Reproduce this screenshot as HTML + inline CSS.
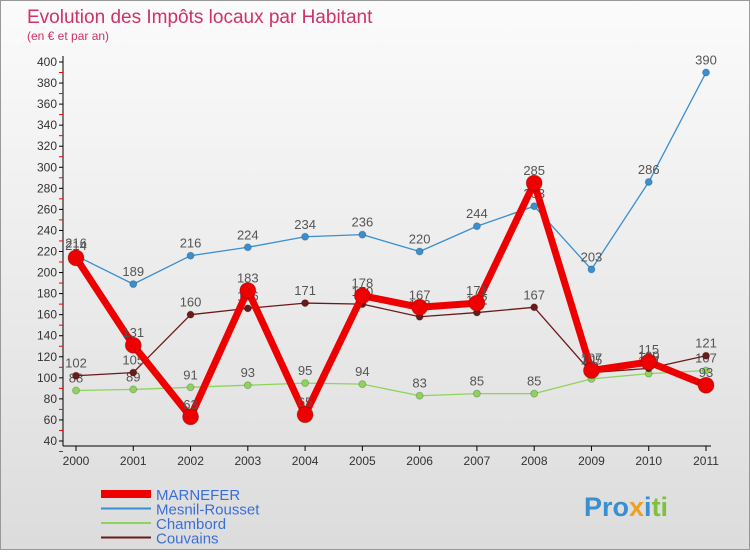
<!DOCTYPE html>
<html><head><meta charset="utf-8"><style>
body{margin:0;width:750px;height:550px;overflow:hidden;font-family:"Liberation Sans",sans-serif}
#wrap{position:relative;width:748px;height:548px;border:1px solid #999;background:linear-gradient(#fbfbfb,#dcdcdc)}
text{font-family:"Liberation Sans","DejaVu Sans",sans-serif}
</style></head><body>
<div id="wrap">
<svg id="chart" width="750" height="550">
<text x="26" y="22" font-size="19" fill="#d0306a">Evolution des Impôts locaux par Habitant</text>
<text x="26" y="39" font-size="12" fill="#d0306a">(en € et par an)</text>
<g id="axes"></g><g id="series"></g>
<text x="583" y="515" font-size="27" font-weight="bold" fill="#3a8fd0">Pro<tspan fill="#f0a020">x</tspan><tspan fill="#3a8fd0">i</tspan><tspan fill="#80c040">ti</tspan></text>
</svg></div>
<script>
const years=[2000,2001,2002,2003,2004,2005,2006,2007,2008,2009,2010,2011];
const yTicks=[40,60,80,100,120,140,160,180,200,220,240,260,280,300,320,340,360,380,400];
const marnefer=[214,131,63,183,65,178,167,171,285,107,115,93];
const mesnil=[216,189,216,224,234,236,220,244,263,203,286,390];
const chambord=[88,89,91,93,95,94,83,85,85,99,104,107];
const couvains=[102,105,160,166,171,170,158,162,167,105,109,121];
const NS="http://www.w3.org/2000/svg";
const xs=i=>75+i*(630/11);
const ys=v=>440-(v-40)*(379/360);
function mk(t,a,p){const e=document.createElementNS(NS,t);for(const k in a)e.setAttribute(k,a[k]);p.appendChild(e);return e;}
const ax=document.getElementById('axes');
const yl=mk('line',{x1:62,y1:55,x2:62,y2:445,stroke:'#000','stroke-width':1},ax);


const xl=mk('line',{x1:62,y1:445,x2:710,y2:445,stroke:'#000','stroke-width':1},ax);


yTicks.forEach(v=>{const y=ys(v);
mk('line',{x1:58,y1:y,x2:62,y2:y,stroke:'#000'},ax);
mk('line',{x1:58,y1:y+10.5,x2:62,y2:y+10.5,stroke:'#e00'},ax);
const t=mk('text',{x:56,y:y+4,'text-anchor':'end','font-size':12,fill:'#333'},ax);t.textContent=v;

});
years.forEach((yr,i)=>{mk('line',{x1:xs(i),y1:445,x2:xs(i),y2:450,stroke:'#000'},ax);
const t=mk('text',{x:xs(i),y:464,'text-anchor':'middle','font-size':12,fill:'#333'},ax);t.textContent=yr;

});
const sg=document.getElementById('series');
function draw(d,name,col,w,r){const g=mk('g',{},sg);


const pl=mk('polyline',{points:d.map((v,i)=>xs(i)+','+ys(v)).join(' '),fill:'none',stroke:col,'stroke-width':w,'stroke-linejoin':'round'},g);


d.forEach((v,i)=>{const c=mk('circle',{cx:xs(i),cy:ys(v),r:r,fill:col,stroke:'rgba(0,0,0,0.2)'},g);


const t=mk('text',{x:xs(i),y:ys(v)-8,'text-anchor':'middle','font-size':13,fill:'#555'},g);t.textContent=v;

});}
draw(chambord,'chambord','#8ed45a',1.3,3.5);
draw(couvains,'couvains','#6b1a1a',1.3,3.5);
draw(mesnil,'mesnil-rousset','#3a8fd0',1.3,3.5);
draw(marnefer,'marnefer','#ee0000',7,8);
const leg=[['MARNEFER','#ee0000',8],['Mesnil-Rousset','#3a8fd0',2],['Chambord','#8ed45a',2],['Couvains','#6b1a1a',2]];
leg.forEach((l,i)=>{const y=493+i*14.5;
const g=mk('g',{},sg);


mk('line',{x1:100,y1:y,x2:150,y2:y,stroke:l[1],'stroke-width':l[2]},g);
const t=mk('text',{x:155,y:y+6,'font-size':15,fill:'#3a6fd8'},g);t.textContent=l[0];});
</script>
</body></html>
